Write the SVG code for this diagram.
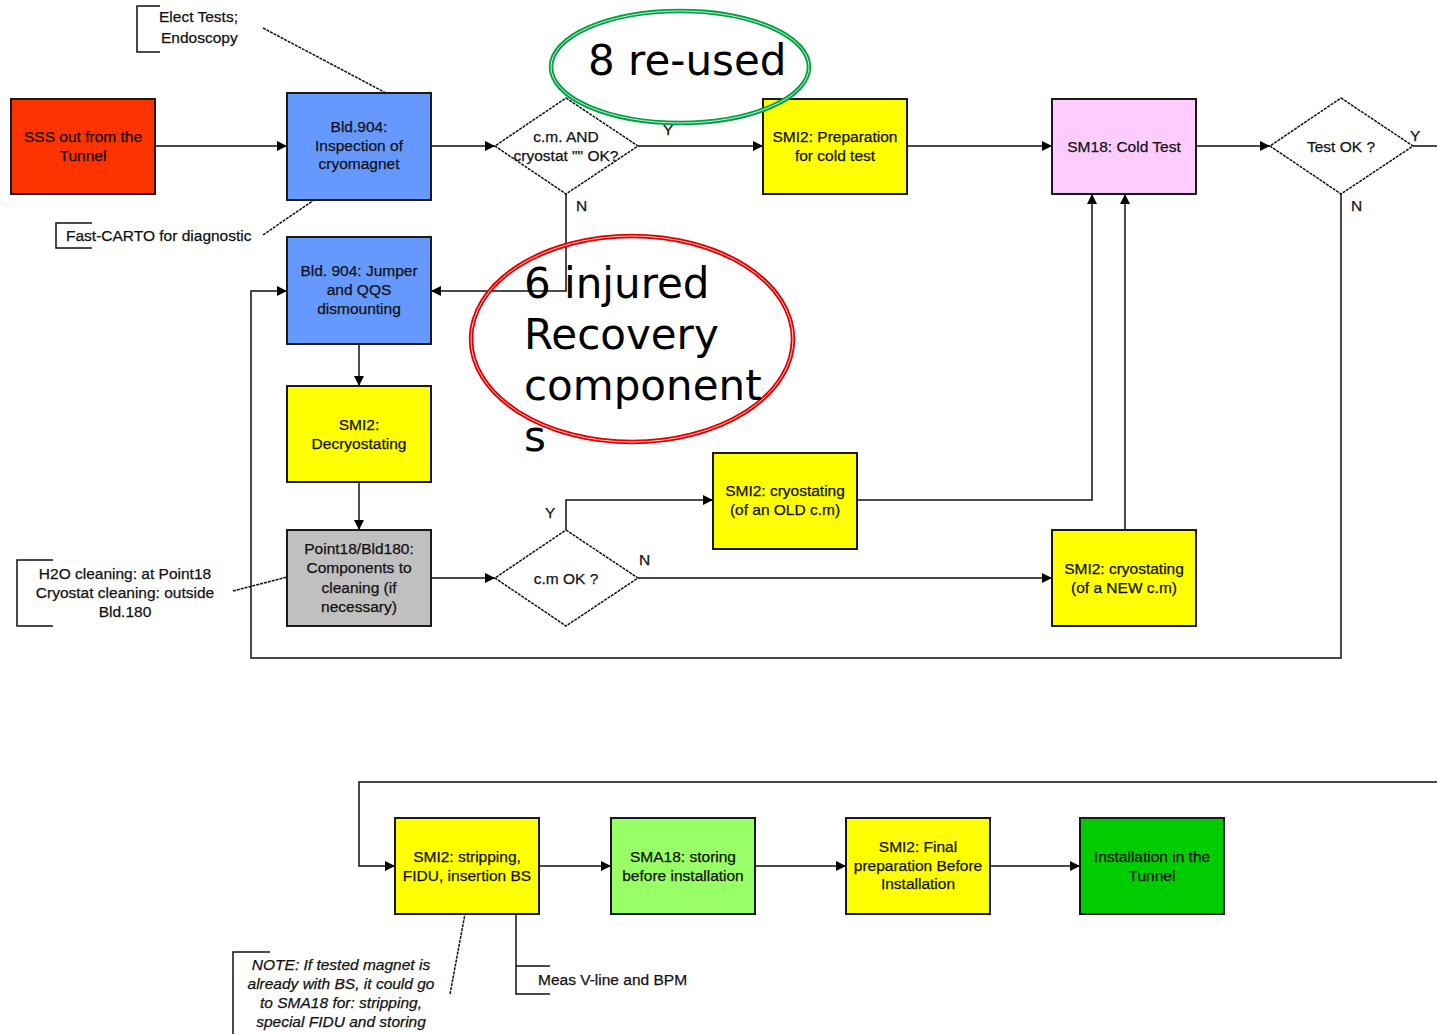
<svg xmlns="http://www.w3.org/2000/svg" width="1437" height="1034" viewBox="0 0 1437 1034">
<defs>
<marker id="arr" viewBox="0 0 10 10" refX="10" refY="5" markerWidth="11" markerHeight="10" markerUnits="userSpaceOnUse" orient="auto">
<path d="M0,0 L10,5 L0,10 z" fill="#000"/>
</marker>
<style>
.box{stroke:#1a1a1a;stroke-width:2}
.dia{fill:#fff;stroke:#111;stroke-width:1.5;stroke-dasharray:3 1}
.t{font-family:"Liberation Sans",Arial,sans-serif;font-size:15.5px;fill:#111;stroke:#111;stroke-width:0.25;text-anchor:middle;dominant-baseline:central}
.lbl{font-family:"Liberation Sans",Arial,sans-serif;font-size:15.5px;fill:#111;stroke:#111;stroke-width:0.25}
.ln{fill:none;stroke:#111;stroke-width:1.5}
.dash{fill:none;stroke:#111;stroke-width:1.5;stroke-dasharray:3 1}
.big{font-family:"DejaVu Sans",sans-serif;font-size:42px;fill:#000}
</style>
</defs>
<rect width="1437" height="1034" fill="#fff"/>

<g id="connectors">
<path class="ln" d="M155,146 H287" marker-end="url(#arr)"/>
<path class="ln" d="M431,146 H495" marker-end="url(#arr)"/>
<path class="ln" d="M638,146 H763" marker-end="url(#arr)"/>
<path class="ln" d="M907,146 H1052" marker-end="url(#arr)"/>
<path class="ln" d="M1196,146 H1270" marker-end="url(#arr)"/>
<path class="ln" d="M1413,146 H1437"/>
<path class="ln" d="M566,194 V291 H431" marker-end="url(#arr)"/>
<path class="ln" d="M1341,194 V658 H251 V291 H287" marker-end="url(#arr)"/>
<path class="ln" d="M359,344 V386" marker-end="url(#arr)"/>
<path class="ln" d="M359,482 V530" marker-end="url(#arr)"/>
<path class="ln" d="M431,578 H495" marker-end="url(#arr)"/>
<path class="ln" d="M566,530 V500 H713" marker-end="url(#arr)"/>
<path class="ln" d="M638,578 H1052" marker-end="url(#arr)"/>
<path class="ln" d="M857,500 H1092 V194" marker-end="url(#arr)"/>
<path class="ln" d="M1125,530 V194" marker-end="url(#arr)"/>
<path class="ln" d="M1437,782 H359 V866 H395" marker-end="url(#arr)"/>
<path class="ln" d="M539,866 H611" marker-end="url(#arr)"/>
<path class="ln" d="M755,866 H846" marker-end="url(#arr)"/>
<path class="ln" d="M990,866 H1080" marker-end="url(#arr)"/>
<text class="lbl" x="663" y="135">Y</text>
<text class="lbl" x="576" y="211">N</text>
<text class="lbl" x="1410" y="141">Y</text>
<text class="lbl" x="1351" y="211">N</text>
<text class="lbl" x="545" y="518">Y</text>
<text class="lbl" x="639" y="565">N</text>
</g>

<g id="annotations">
<path class="ln" d="M160,6 H137 V52 H160"/>
<text class="lbl" x="159" y="22">Elect Tests;</text>
<text class="lbl" x="161" y="43">Endoscopy</text>
<path class="dash" d="M263,28 L386,93"/>
<path class="ln" d="M92,223 H56 V248 H92"/>
<text class="lbl" x="66" y="241">Fast-CARTO for diagnostic</text>
<path class="dash" d="M263,235 L314,200"/>
<path class="ln" d="M53,560 H17 V626 H53"/>
<text class="t" x="125" y="573">H2O cleaning: at Point18</text>
<text class="t" x="125" y="592">Cryostat cleaning: outside</text>
<text class="t" x="125" y="611">Bld.180</text>
<path class="dash" d="M233,591 L287,577"/>
<path class="ln" d="M270,952 H233 V1034"/>
<text class="t" x="341" y="964" font-style="italic">NOTE: If tested magnet is</text>
<text class="t" x="341" y="983" font-style="italic">already with BS, it could go</text>
<text class="t" x="341" y="1002" font-style="italic">to SMA18 for: stripping,</text>
<text class="t" x="341" y="1021" font-style="italic">special FIDU and storing</text>
<path class="dash" d="M450,994 L465,914"/>
<path class="ln" d="M516,914 V994 H550 M516,966 H550"/>
<text class="lbl" x="538" y="985">Meas V-line and BPM</text>
</g>

<g id="n-sss"><rect class="box" x="11" y="99" width="144" height="95" fill="#FF3300"/>
<text class="t" x="83" y="136">SSS out from the</text><text class="t" x="83" y="155">Tunnel</text></g>
<g id="n-inspection"><rect class="box" x="287" y="93" width="144" height="107" fill="#6699FF"/>
<text class="t" x="359" y="126">Bld.904:</text><text class="t" x="359" y="145">Inspection of</text><text class="t" x="359" y="163">cryomagnet</text></g>
<g id="n-dec1"><polygon class="dia" points="566,98 638,146 566,194 495,146"/>
<text class="t" x="566" y="136">c.m. AND</text><text class="t" x="566" y="155">cryostat "" OK?</text></g>
<g id="n-prep"><rect class="box" x="763" y="99" width="144" height="95" fill="#FFFF00"/>
<text class="t" x="835" y="136">SMI2: Preparation</text><text class="t" x="835" y="155">for cold test</text></g>
<g id="n-cold"><rect class="box" x="1052" y="99" width="144" height="95" fill="#FFCCFF"/>
<text class="t" x="1124" y="146">SM18: Cold Test</text></g>
<g id="n-testok"><polygon class="dia" points="1341,98 1413,146 1341,194 1270,146"/>
<text class="t" x="1341" y="146">Test OK ?</text></g>
<g id="n-jumper"><rect class="box" x="287" y="237" width="144" height="107" fill="#6699FF"/>
<text class="t" x="359" y="270">Bld. 904: Jumper</text><text class="t" x="359" y="289">and QQS</text><text class="t" x="359" y="308">dismounting</text></g>
<g id="n-decryo"><rect class="box" x="287" y="386" width="144" height="96" fill="#FFFF00"/>
<text class="t" x="359" y="424">SMI2:</text><text class="t" x="359" y="443">Decryostating</text></g>
<g id="n-clean"><rect class="box" x="287" y="530" width="144" height="96" fill="#C0C0C0"/>
<text class="t" x="359" y="548">Point18/Bld180:</text><text class="t" x="359" y="567">Components to</text><text class="t" x="359" y="587">cleaning (if</text><text class="t" x="359" y="606">necessary)</text></g>
<g id="n-cmok"><polygon class="dia" points="566,530 638,578 566,626 495,578"/>
<text class="t" x="566" y="578">c.m OK ?</text></g>
<g id="n-old"><rect class="box" x="713" y="453" width="144" height="96" fill="#FFFF00"/>
<text class="t" x="785" y="490">SMI2: cryostating</text><text class="t" x="785" y="509">(of an OLD c.m)</text></g>
<g id="n-new"><rect class="box" x="1052" y="530" width="144" height="96" fill="#FFFF00"/>
<text class="t" x="1124" y="568">SMI2: cryostating</text><text class="t" x="1124" y="587">(of a NEW c.m)</text></g>
<g id="n-strip"><rect class="box" x="395" y="818" width="144" height="96" fill="#FFFF00"/>
<text class="t" x="467" y="856">SMI2: stripping,</text><text class="t" x="467" y="875">FIDU, insertion BS</text></g>
<g id="n-sma18"><rect class="box" x="611" y="818" width="144" height="96" fill="#99FF66"/>
<text class="t" x="683" y="856">SMA18: storing</text><text class="t" x="683" y="875">before installation</text></g>
<g id="n-final"><rect class="box" x="846" y="818" width="144" height="96" fill="#FFFF00"/>
<text class="t" x="918" y="846">SMI2: Final</text><text class="t" x="918" y="865">preparation Before</text><text class="t" x="918" y="883">Installation</text></g>
<g id="n-install"><rect class="box" x="1080" y="818" width="144" height="96" fill="#00CC00"/>
<text class="t" x="1152" y="856">Installation in the</text><text class="t" x="1152" y="875">Tunnel</text></g>

<g id="callout-reused">
<ellipse cx="680" cy="67" rx="129" ry="56" fill="none" stroke="#00A040" stroke-width="4.5"/>
<ellipse cx="680" cy="67" rx="129" ry="56" fill="none" stroke="#fff" stroke-width="0.8"/>
<text class="big" x="588" y="75">8 re‑used</text>
</g>
<g id="callout-injured">
<ellipse cx="632" cy="339" rx="161" ry="103" fill="none" stroke="#E00000" stroke-width="4.5"/>
<ellipse cx="632" cy="339" rx="161" ry="103" fill="none" stroke="#fff" stroke-width="0.8"/>
<text class="big" x="524" y="298">6 injured</text>
<text class="big" x="524" y="349">Recovery</text>
<text class="big" x="524" y="400">component</text>
<text class="big" x="524" y="451">s</text>
</g>
</svg>
